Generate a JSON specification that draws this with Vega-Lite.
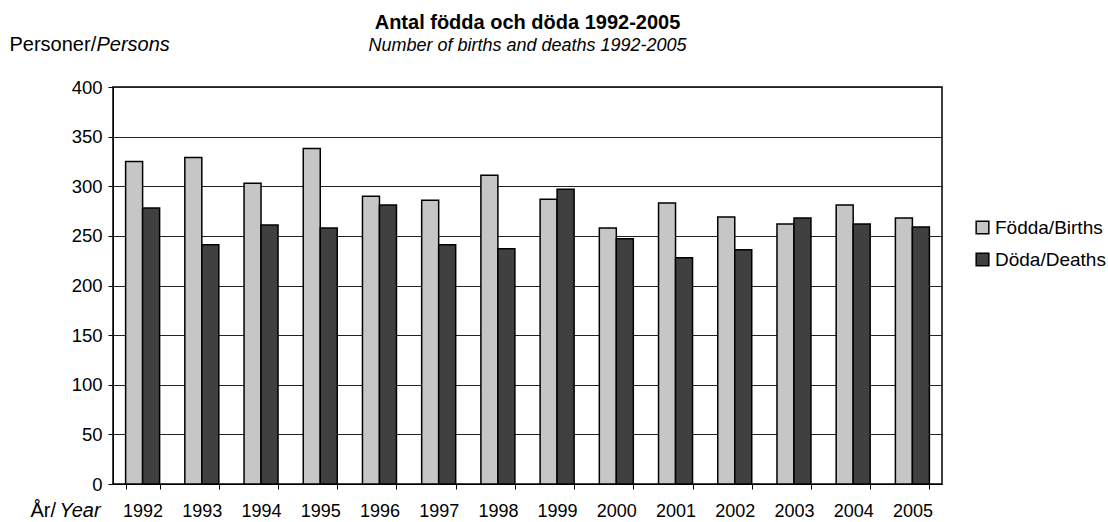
{
  "$schema": "https://vega.github.io/schema/vega-lite/v6.json",
  "width": 829,
  "height": 397,
  "autosize": {"type": "none"},
  "padding": {"left": 113, "top": 87, "right": 166, "bottom": 38},
  "background": "white",
  "config": {
    "font": "Liberation Sans",
    "view": {"stroke": "black", "strokeWidth": 1.5}
  },
  "title": {
    "text": "Antal födda och döda 1992-2005",
    "subtitle": "Number of births and deaths 1992-2005",
    "anchor": "middle",
    "frame": "group",
    "fontSize": 20,
    "fontWeight": "bold",
    "color": "black",
    "subtitleFontSize": 18,
    "subtitleFontStyle": "italic",
    "subtitleColor": "black",
    "subtitlePadding": 4,
    "offset": 0,
    "dy": 169
  },
  "data": {
    "values": [
      {"year": "1992", "series": "Födda/Births", "value": 325},
      {"year": "1992", "series": "Döda/Deaths", "value": 278},
      {"year": "1993", "series": "Födda/Births", "value": 329},
      {"year": "1993", "series": "Döda/Deaths", "value": 241},
      {"year": "1994", "series": "Födda/Births", "value": 303},
      {"year": "1994", "series": "Döda/Deaths", "value": 261},
      {"year": "1995", "series": "Födda/Births", "value": 338},
      {"year": "1995", "series": "Döda/Deaths", "value": 258},
      {"year": "1996", "series": "Födda/Births", "value": 290},
      {"year": "1996", "series": "Döda/Deaths", "value": 281},
      {"year": "1997", "series": "Födda/Births", "value": 286},
      {"year": "1997", "series": "Döda/Deaths", "value": 241},
      {"year": "1998", "series": "Födda/Births", "value": 311},
      {"year": "1998", "series": "Döda/Deaths", "value": 237},
      {"year": "1999", "series": "Födda/Births", "value": 287},
      {"year": "1999", "series": "Döda/Deaths", "value": 297},
      {"year": "2000", "series": "Födda/Births", "value": 258},
      {"year": "2000", "series": "Döda/Deaths", "value": 247},
      {"year": "2001", "series": "Födda/Births", "value": 283},
      {"year": "2001", "series": "Döda/Deaths", "value": 228},
      {"year": "2002", "series": "Födda/Births", "value": 269},
      {"year": "2002", "series": "Döda/Deaths", "value": 236},
      {"year": "2003", "series": "Födda/Births", "value": 262},
      {"year": "2003", "series": "Döda/Deaths", "value": 268},
      {"year": "2004", "series": "Födda/Births", "value": 281},
      {"year": "2004", "series": "Döda/Deaths", "value": 262},
      {"year": "2005", "series": "Födda/Births", "value": 268},
      {"year": "2005", "series": "Döda/Deaths", "value": 259}
    ]
  },
  "layer": [
    {
      "mark": {"type": "bar", "stroke": "black", "strokeWidth": 1.5},
      "encoding": {
        "x": {
          "field": "year",
          "type": "nominal",
          "scale": {"paddingInner": 0.426, "paddingOuter": 0.213},
          "axis": {
            "title": "År/",
            "titleFontSize": 20,
            "titleFontWeight": "normal",
            "titleColor": "black",
            "titleX": -83,
            "titleY": 32,
            "titleAlign": "left",
            "titleAnchor": "start",
            "titleBaseline": "alphabetic",
            "labelAngle": 0,
            "labelFontSize": 18,
            "labelColor": "black",
            "labelBaseline": "alphabetic",
            "labelPadding": 27,
            "tickSize": 5,
            "tickColor": "black",
            "tickBand": "extent",
            "domainColor": "black",
            "grid": false
          }
        },
        "xOffset": {
          "field": "series",
          "type": "nominal",
          "scale": {"domain": ["Födda/Births", "Döda/Deaths"], "paddingInner": 0, "paddingOuter": 0}
        },
        "y": {
          "field": "value",
          "type": "quantitative",
          "scale": {"domain": [0, 400], "nice": false},
          "axis": {
            "values": [0, 50, 100, 150, 200, 250, 300, 350, 400],
            "title": "Personer/",
            "titleAngle": 0,
            "titleFontSize": 20,
            "titleFontWeight": "normal",
            "titleColor": "black",
            "titleX": -104,
            "titleY": -37,
            "titleAlign": "left",
            "titleAnchor": "start",
            "titleBaseline": "alphabetic",
            "labelFontSize": 18.5,
            "labelColor": "black",
            "labelPadding": 6,
            "tickSize": 5,
            "tickColor": "black",
            "domainColor": "black",
            "grid": true,
            "gridColor": "#222222",
            "gridWidth": 1
          }
        },
        "color": {
          "field": "series",
          "type": "nominal",
          "scale": {"domain": ["Födda/Births", "Döda/Deaths"], "range": ["#c6c6c6", "#404040"]},
          "legend": {
            "orient": "none",
            "legendX": 860,
            "legendY": 131,
            "title": null,
            "labelFontSize": 19,
            "labelColor": "black",
            "symbolType": "square",
            "symbolSize": 160,
            "symbolStrokeColor": "black",
            "symbolStrokeWidth": 1.5,
            "symbolOpacity": 1,
            "rowPadding": 12,
            "labelOffset": 3
          }
        }
      }
    },
    {
      "mark": {"type": "bar", "opacity": 0},
      "encoding": {
        "x": {
          "field": "year",
          "type": "nominal",
          "axis": {
            "orient": "bottom",
            "title": "Year",
            "titleFontSize": 20,
            "titleFontWeight": "normal",
            "titleFontStyle": "italic",
            "titleColor": "black",
            "titleX": -54,
            "titleY": 32,
            "titleAlign": "left",
            "titleAnchor": "start",
            "titleBaseline": "alphabetic",
            "labels": false,
            "ticks": false,
            "domain": false,
            "grid": false
          }
        },
        "y": {
          "field": "value",
          "type": "quantitative",
          "axis": {
            "orient": "left",
            "title": "Persons",
            "titleAngle": 0,
            "titleFontSize": 20,
            "titleFontWeight": "normal",
            "titleFontStyle": "italic",
            "titleColor": "black",
            "titleX": -17,
            "titleY": -37,
            "titleAlign": "left",
            "titleAnchor": "start",
            "titleBaseline": "alphabetic",
            "labels": false,
            "ticks": false,
            "domain": false,
            "grid": false
          }
        }
      }
    }
  ],
  "resolve": {"axis": {"x": "independent", "y": "independent"}}
}
